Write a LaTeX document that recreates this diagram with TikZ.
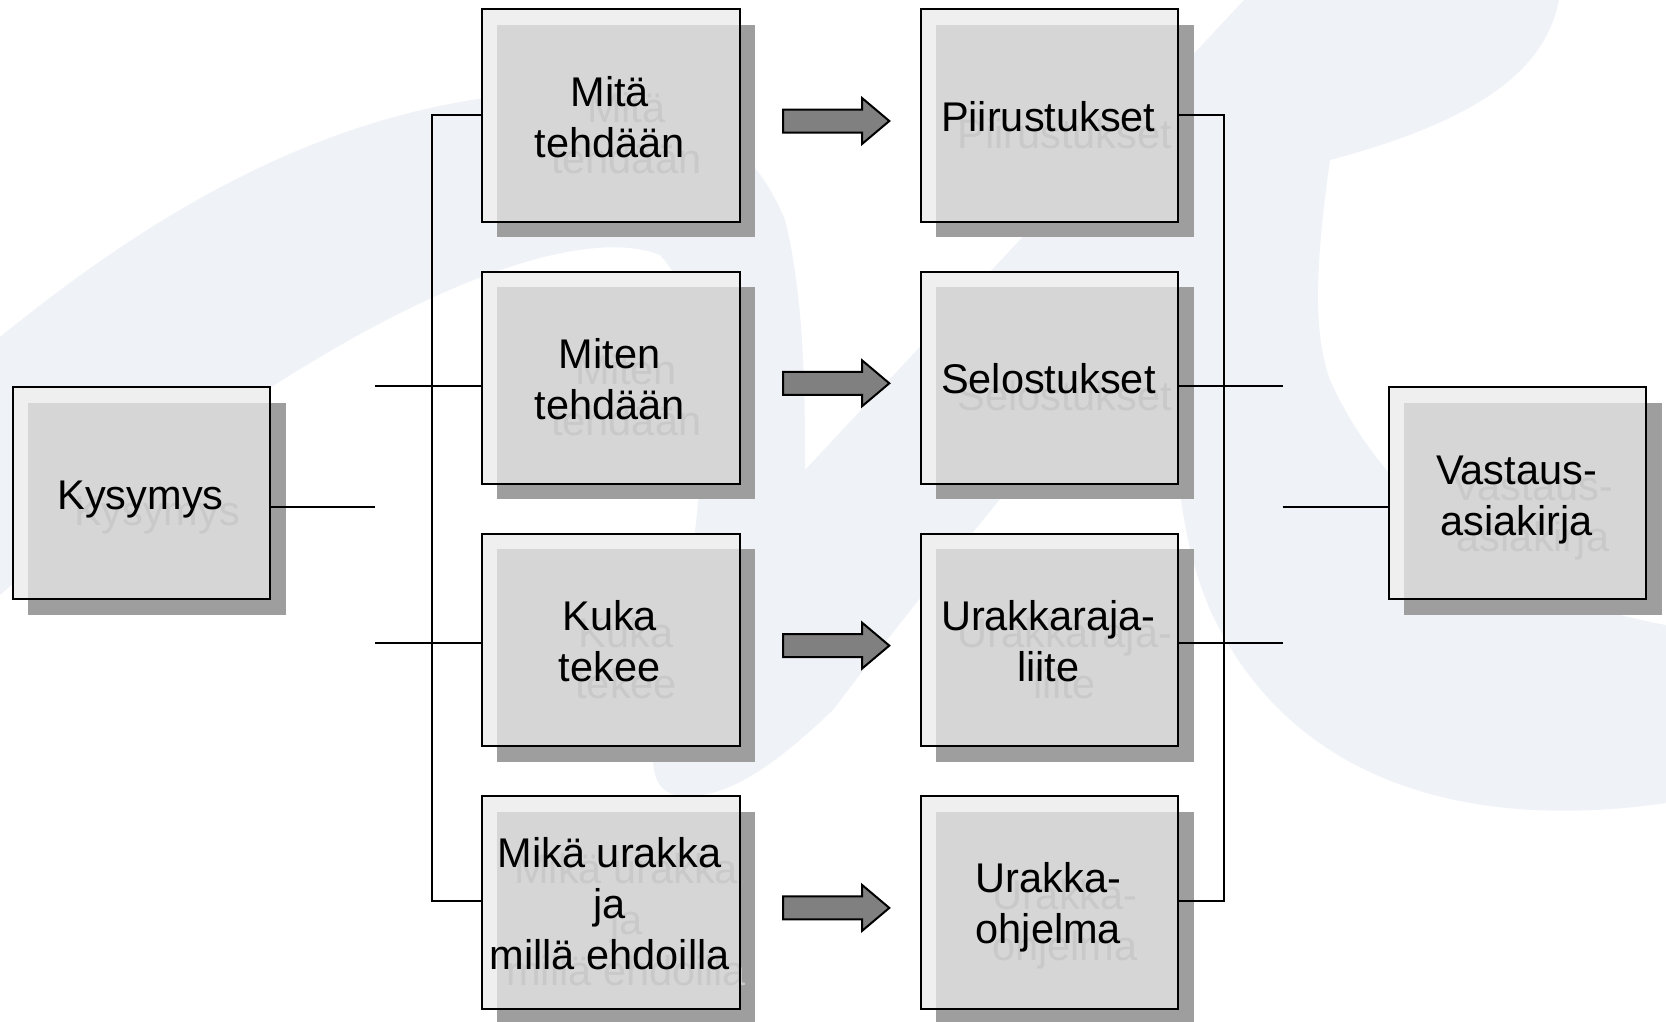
\documentclass[tikz,border=0pt]{standalone}
\usepackage{fontspec}
\setmainfont{Liberation Sans}
\definecolor{bgpale}{HTML}{EFF2F7}
\definecolor{boxlight}{HTML}{EFEFEF}
\definecolor{boxmid}{HTML}{D6D6D6}
\definecolor{boxshadow}{HTML}{9E9E9E}
\definecolor{ghostgray}{HTML}{C9C9C9}
\definecolor{arrowgray}{HTML}{808080}
\tikzset{
  boxborder/.style={draw=black, line width=2pt, inner sep=0pt, minimum width=257.7pt, minimum height=212.3pt, anchor=north west},
  maintext/.style={font=\fontsize{41.5}{50}\selectfont, text=black, anchor=base, inner sep=0pt},
  ghosttext/.style={font=\fontsize{41.5}{50}\selectfont, text=ghostgray, anchor=base, inner sep=0pt},
  conn/.style={draw=black, line width=2pt},
  blockarrow/.style={draw=black, line width=2pt, fill=arrowgray, line join=miter}
}
\newcommand{\qbox}[2]{%
  \begin{scope}[shift={(#1,#2)}]
    \fill[boxshadow] (16.5,16.5) rectangle (274.2,228.8);
    \fill[boxlight] (0,0) rectangle (257.7,212.3);
    \fill[boxmid] (16.5,16.5) rectangle (257.7,212.3);
  \end{scope}}
\newcommand{\qghost}[4]{\node[ghosttext] (#1) at (#2+16.5,#3+16.5) {#4};}
\newcommand{\qmain}[4]{\node[maintext] (#1) at (#2,#3) {#4};}
\newcommand{\qarrow}[1]{%
  \begin{scope}[shift={(0,#1)}]
    \draw[blockarrow] (783,-11.5) -- (862,-11.5) -- (862,-23) -- (889.3,0) -- (862,23) -- (862,11.5) -- (783,11.5) -- cycle;
  \end{scope}}
\begin{document}
\begin{tikzpicture}[x=1pt,y=-1pt]
\useasboundingbox (0,0) rectangle (1666,1021);
\fill[white] (0,0) rectangle (1666,1021);
% background logo shape
\fill[bgpale] (0,337) .. controls (150,215) and (320,112) .. (520,94)
  .. controls (640,86) and (740,110) .. (785,220)
  .. controls (805,300) and (805,400) .. (805,470)
  -- (1244,0) -- (1559,0)
  .. controls (1545,70) and (1480,120) .. (1330,160)
  .. controls (1316,260) and (1312,330) .. (1330,380)
  .. controls (1370,470) and (1470,590) .. (1666,625)
  -- (1666,803)
  .. controls (1480,830) and (1300,790) .. (1215,620)
  .. controls (1175,540) and (1170,420) .. (1172,290)
  .. controls (1080,400) and (900,620) .. (833,710)
  .. controls (780,760) and (730,800) .. (680,796)
  .. controls (650,792) and (648,760) .. (660,720)
  .. controls (700,560) and (730,330) .. (660,255)
  .. controls (560,215) and (300,330) .. (0,595) -- cycle;
% boxes: shadows and fills
\qbox{11.7}{386}
\qbox{480.9}{8.3}
\qbox{480.9}{270.6}
\qbox{480.9}{532.9}
\qbox{480.9}{795.2}
\qbox{919.5}{8.3}
\qbox{919.5}{270.6}
\qbox{919.5}{532.9}
\qbox{919.5}{795.2}
\qbox{1387.7}{386}
% ghost texts
\qghost{g0}{140.5}{509.2}{Kysymys}
\qghost{g1a}{609.7}{106}{Mitä}
\qghost{g1b}{609.7}{157}{tehdään}
\qghost{g2a}{609.7}{368.3}{Miten}
\qghost{g2b}{609.7}{419.3}{tehdään}
\qghost{g3a}{609.7}{630.6}{Kuka}
\qghost{g3b}{609.7}{681.6}{tekee}
\qghost{g4a}{609.7}{867.4}{Mikä urakka}
\qghost{g4b}{609.7}{918.4}{ja}
\qghost{g4c}{609.7}{969.4}{millä ehdoilla}
\qghost{h1}{1048.3}{131.5}{Piirustukset}
\qghost{h2}{1048.3}{393.8}{Selostukset}
\qghost{h3a}{1048.3}{630.6}{Urakkaraja-}
\qghost{h3b}{1048.3}{681.6}{liite}
\qghost{h4a}{1048.3}{892.9}{Urakka-}
\qghost{h4b}{1048.3}{943.9}{ohjelma}
\qghost{gva}{1516.5}{484.2}{Vastaus-}
\qghost{gvb}{1516.5}{535.2}{asiakirja}
% box borders
\node[boxborder] (kys) at (11.7,386) {};
\node[boxborder] (b1) at (480.9,8.3) {};
\node[boxborder] (b2) at (480.9,270.6) {};
\node[boxborder] (b3) at (480.9,532.9) {};
\node[boxborder] (b4) at (480.9,795.2) {};
\node[boxborder] (c1) at (919.5,8.3) {};
\node[boxborder] (c2) at (919.5,270.6) {};
\node[boxborder] (c3) at (919.5,532.9) {};
\node[boxborder] (c4) at (919.5,795.2) {};
\node[boxborder] (vas) at (1387.7,386) {};
% main texts
\qmain{t0}{140.5}{509.2}{Kysymys}
\qmain{t1a}{609.7}{106}{Mitä}
\qmain{t1b}{609.7}{157}{tehdään}
\qmain{t2a}{609.7}{368.3}{Miten}
\qmain{t2b}{609.7}{419.3}{tehdään}
\qmain{t3a}{609.7}{630.6}{Kuka}
\qmain{t3b}{609.7}{681.6}{tekee}
\qmain{t4a}{609.7}{867.4}{Mikä urakka}
\qmain{t4b}{609.7}{918.4}{ja}
\qmain{t4c}{609.7}{969.4}{millä ehdoilla}
\qmain{u1}{1048.3}{131.5}{Piirustukset}
\qmain{u2}{1048.3}{393.8}{Selostukset}
\qmain{u3a}{1048.3}{630.6}{Urakkaraja-}
\qmain{u3b}{1048.3}{681.6}{liite}
\qmain{u4a}{1048.3}{892.9}{Urakka-}
\qmain{u4b}{1048.3}{943.9}{ohjelma}
\qmain{tva}{1516.5}{484.2}{Vastaus-}
\qmain{tvb}{1516.5}{535.2}{asiakirja}
% block arrows
\qarrow{121}
\qarrow{383.3}
\qarrow{645.6}
\qarrow{907.9}
% connectors
\coordinate (J0) at (375,507);
\coordinate (L1) at (432,114.75);
\coordinate (L4) at (432,901);
\coordinate (L2) at (375,386);
\coordinate (L3) at (375,643);
\coordinate (R1) at (1224,114.75);
\coordinate (R4) at (1224,901);
\coordinate (R2) at (1282.5,386);
\coordinate (R3) at (1282.5,643);
\coordinate (RV) at (1282.5,507);
\draw[conn] (kys.east |- J0) -- (J0);
\draw[conn] (b1.west |- L1) -- (L1) -- (L4) -- (b4.west |- L4);
\draw[conn] (L2) -- (b2.west |- L2);
\draw[conn] (L3) -- (b3.west |- L3);
\draw[conn] (c1.east |- R1) -- (R1) -- (R4) -- (c4.east |- R4);
\draw[conn] (c2.east |- R2) -- (R2);
\draw[conn] (c3.east |- R3) -- (R3);
\draw[conn] (RV) -- (vas.west |- RV);
\end{tikzpicture}
\end{document}
